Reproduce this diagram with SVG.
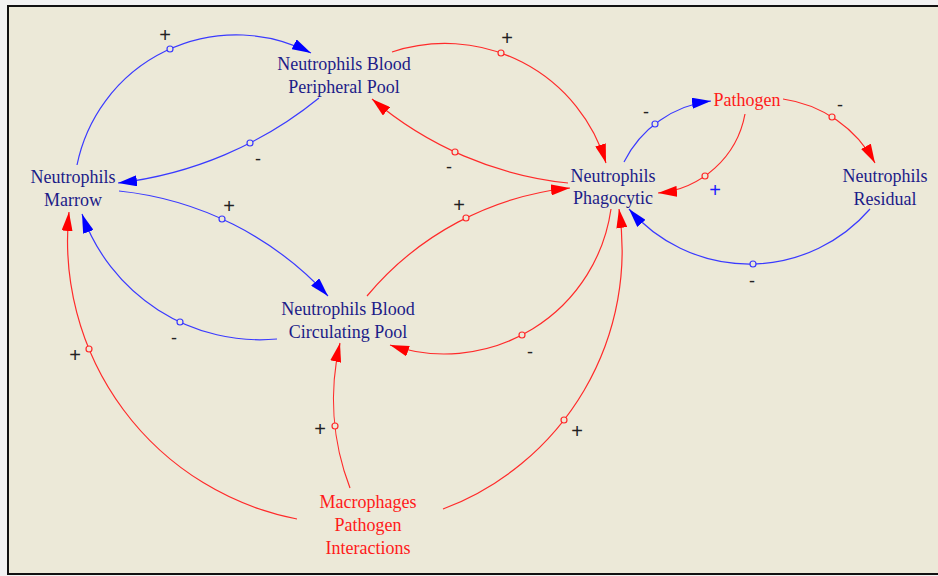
<svg xmlns="http://www.w3.org/2000/svg" width="938" height="576" viewBox="0 0 938 576">
<style>
.node{font-family:"Liberation Serif","Times New Roman",serif;font-size:18px;text-anchor:middle;fill:#1c1c88}
.red{fill:#ff1a1a}
.pol{font-family:"Liberation Sans",Arial,sans-serif;font-size:18px;text-anchor:middle;fill:#222}
.plus{font-size:20px}
.pb{fill:#1a1aff}
.lb{fill:none;stroke:#3a3aff;stroke-width:1.2;marker-end:url(#ab)}
.lr{fill:none;stroke:#ff2a2a;stroke-width:1.2;marker-end:url(#ar)}
.cb{fill:#ece9d8;stroke:#3a3aff;stroke-width:1.2}
.cr{fill:#ece9d8;stroke:#ff2a2a;stroke-width:1.2}
</style>
<defs>
<marker id="ab" viewBox="0 0 19 11" markerWidth="19" markerHeight="11" refX="19" refY="5.5" orient="auto" markerUnits="userSpaceOnUse"><path d="M0,0 L19,5.5 L0,11 z" fill="#0000ff"/></marker>
<marker id="ar" viewBox="0 0 19 11" markerWidth="19" markerHeight="11" refX="19" refY="5.5" orient="auto" markerUnits="userSpaceOnUse"><path d="M0,0 L19,5.5 L0,11 z" fill="#ff0000"/></marker>
</defs>
<rect x="0" y="0" width="938" height="576" fill="#f2f2f2"/>
<rect x="8" y="6" width="940" height="568" fill="#ece9d8" stroke="#111" stroke-width="2"/>
<g id="connectors">
<path class="lb" d="M77,165 A162.6,162.6 0 0 1 311,53"/>
<path class="lb" d="M319,98 A389.8,389.8 0 0 1 118,183"/>
<path class="lb" d="M119,191 A329.4,329.4 0 0 1 328,296"/>
<path class="lb" d="M277,339 A188.8,188.8 0 0 1 82,214"/>
<path class="lr" d="M392,52 A168.2,168.2 0 0 1 606,163"/>
<path class="lr" d="M568,183 A360.3,360.3 0 0 1 372,99"/>
<path class="lr" d="M367,296 A304.8,304.8 0 0 1 570,188"/>
<path class="lr" d="M611,209 A168.4,168.4 0 0 1 390,345"/>
<path class="lb" d="M624,162 A111.4,111.4 0 0 1 711,101"/>
<path class="lr" d="M745,114 A97,97 0 0 1 658,193"/>
<path class="lr" d="M783,99 A124.5,124.5 0 0 1 875,163"/>
<path class="lb" d="M870,209 A159.4,159.4 0 0 1 629,209"/>
<path class="lr" d="M297,519 A283.4,283.4 0 0 1 69,212"/>
<path class="lr" d="M350,488 A248,248 0 0 1 340,343"/>
<path class="lr" d="M443,509 A276.1,276.1 0 0 0 619,209"/>
<circle class="cb" cx="170" cy="49" r="3"/>
<circle class="cb" cx="250" cy="143" r="3"/>
<circle class="cb" cx="222" cy="219" r="3"/>
<circle class="cb" cx="180" cy="322" r="3"/>
<circle class="cr" cx="501" cy="53" r="3"/>
<circle class="cr" cx="455" cy="152" r="3"/>
<circle class="cr" cx="466" cy="218" r="3"/>
<circle class="cr" cx="522" cy="335" r="3"/>
<circle class="cb" cx="655" cy="124" r="3"/>
<circle class="cr" cx="705" cy="176" r="3"/>
<circle class="cr" cx="832" cy="117" r="3"/>
<circle class="cb" cx="753" cy="264" r="3"/>
<circle class="cr" cx="89" cy="349" r="3"/>
<circle class="cr" cx="335" cy="426" r="3"/>
<circle class="cr" cx="564" cy="420" r="3"/>
<text class="pol plus" x="165" y="42">+</text>
<text class="pol" x="258" y="165">-</text>
<text class="pol plus" x="229" y="213">+</text>
<text class="pol" x="174" y="344">-</text>
<text class="pol plus" x="507" y="45">+</text>
<text class="pol" x="449" y="173">-</text>
<text class="pol plus" x="459" y="212">+</text>
<text class="pol" x="530" y="358">-</text>
<text class="pol" x="646" y="118">-</text>
<text class="pol plus pb" x="715" y="197">+</text>
<text class="pol" x="840" y="111">-</text>
<text class="pol" x="752" y="287">-</text>
<text class="pol plus" x="75" y="362">+</text>
<text class="pol plus" x="320" y="436">+</text>
<text class="pol plus" x="577" y="438">+</text>
</g>
<g id="node-peripheral"><text class="node" x="344" y="70">Neutrophils Blood</text><text class="node" x="344" y="93">Peripheral Pool</text></g>
<g id="node-marrow"><text class="node" x="73" y="183">Neutrophils</text><text class="node" x="73" y="206">Marrow</text></g>
<g id="node-phagocytic"><text class="node" x="613" y="182">Neutrophils</text><text class="node" x="613" y="204">Phagocytic</text></g>
<g id="node-pathogen"><text class="node red" x="747" y="106">Pathogen</text></g>
<g id="node-residual"><text class="node" x="885" y="182">Neutrophils</text><text class="node" x="885" y="205">Residual</text></g>
<g id="node-circulating"><text class="node" x="348" y="315">Neutrophils Blood</text><text class="node" x="348" y="338">Circulating Pool</text></g>
<g id="node-macrophages"><text class="node red" x="368" y="508">Macrophages</text><text class="node red" x="368" y="531">Pathogen</text><text class="node red" x="368" y="554">Interactions</text></g>
</svg>
